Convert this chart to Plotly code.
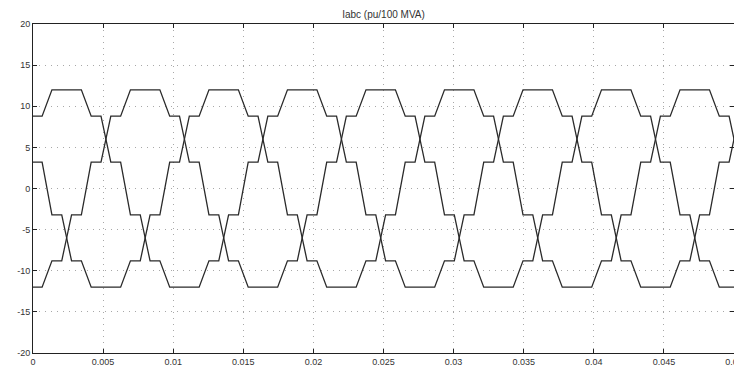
import plotly.graph_objects as go

# ---- data (vertices of each phase current, pu) ----
ia_t = [-0.00215, -0.00145, -0.00075, -0.00005, 0.00065, 0.00135, 0.00345, 0.00415,
        0.00485, 0.00555, 0.00625, 0.00695, 0.00765, 0.00835, 0.00905, 0.00975,
        0.01185, 0.01255, 0.01325, 0.01395, 0.01465, 0.01535, 0.01605, 0.01675,
        0.01745, 0.01815, 0.02025, 0.02095, 0.02165, 0.02235, 0.02305, 0.02375,
        0.02445, 0.02515, 0.02585, 0.02655, 0.02865, 0.02935, 0.03005, 0.03075,
        0.03145, 0.03215, 0.03285, 0.03355, 0.03425, 0.03495, 0.03705, 0.03775,
        0.03845, 0.03915, 0.03985, 0.04055, 0.04125, 0.04195, 0.04265, 0.04335,
        0.04545, 0.04615, 0.04685, 0.04755, 0.04825, 0.04895, 0.04965, 0.05035]
ia_v = [-3.2, 3.2, 3.2, 8.8, 8.8, 12.0, 12.0, 8.8,
        8.8, 3.2, 3.2, -3.2, -3.2, -8.8, -8.8, -12.0,
        -12.0, -8.8, -8.8, -3.2, -3.2, 3.2, 3.2, 8.8,
        8.8, 12.0, 12.0, 8.8, 8.8, 3.2, 3.2, -3.2,
        -3.2, -8.8, -8.8, -12.0, -12.0, -8.8, -8.8, -3.2,
        -3.2, 3.2, 3.2, 8.8, 8.8, 12.0, 12.0, 8.8,
        8.8, 3.2, 3.2, -3.2, -3.2, -8.8, -8.8, -12.0,
        -12.0, -8.8, -8.8, -3.2, -3.2, 3.2, 3.2, 8.8]

ib_t = [-0.00215, -0.00145, -0.00075, -0.00005, 0.00065, 0.00135, 0.00205, 0.00275,
        0.00345, 0.00415, 0.00625, 0.00695, 0.00765, 0.00835, 0.00905, 0.00975,
        0.01045, 0.01115, 0.01185, 0.01255, 0.01465, 0.01535, 0.01605, 0.01675,
        0.01745, 0.01815, 0.01885, 0.01955, 0.02025, 0.02095, 0.02305, 0.02375,
        0.02445, 0.02515, 0.02585, 0.02655, 0.02725, 0.02795, 0.02865, 0.02935,
        0.03145, 0.03215, 0.03285, 0.03355, 0.03425, 0.03495, 0.03565, 0.03635,
        0.03705, 0.03775, 0.03985, 0.04055, 0.04125, 0.04195, 0.04265, 0.04335,
        0.04405, 0.04475, 0.04545, 0.04615, 0.04825, 0.04895, 0.04965, 0.05035,
        0.05105, 0.05175]
ib_v = [12.0, 8.8, 8.8, 3.2, 3.2, -3.2, -3.2, -8.8,
        -8.8, -12.0, -12.0, -8.8, -8.8, -3.2, -3.2, 3.2,
        3.2, 8.8, 8.8, 12.0, 12.0, 8.8, 8.8, 3.2,
        3.2, -3.2, -3.2, -8.8, -8.8, -12.0, -12.0, -8.8,
        -8.8, -3.2, -3.2, 3.2, 3.2, 8.8, 8.8, 12.0,
        12.0, 8.8, 8.8, 3.2, 3.2, -3.2, -3.2, -8.8,
        -8.8, -12.0, -12.0, -8.8, -8.8, -3.2, -3.2, 3.2,
        3.2, 8.8, 8.8, 12.0, 12.0, 8.8, 8.8, 3.2,
        3.2, -3.2]

ic_t = [-0.00215, -0.00145, 0.00065, 0.00135, 0.00205, 0.00275, 0.00345, 0.00415,
        0.00485, 0.00555, 0.00625, 0.00695, 0.00905, 0.00975, 0.01045, 0.01115,
        0.01185, 0.01255, 0.01325, 0.01395, 0.01465, 0.01535, 0.01745, 0.01815,
        0.01885, 0.01955, 0.02025, 0.02095, 0.02165, 0.02235, 0.02305, 0.02375,
        0.02585, 0.02655, 0.02725, 0.02795, 0.02865, 0.02935, 0.03005, 0.03075,
        0.03145, 0.03215, 0.03425, 0.03495, 0.03565, 0.03635, 0.03705, 0.03775,
        0.03845, 0.03915, 0.03985, 0.04055, 0.04265, 0.04335, 0.04405, 0.04475,
        0.04545, 0.04615, 0.04685, 0.04755, 0.04825, 0.04895, 0.05105, 0.05175]
ic_v = [-8.8, -12.0, -12.0, -8.8, -8.8, -3.2, -3.2, 3.2,
        3.2, 8.8, 8.8, 12.0, 12.0, 8.8, 8.8, 3.2,
        3.2, -3.2, -3.2, -8.8, -8.8, -12.0, -12.0, -8.8,
        -8.8, -3.2, -3.2, 3.2, 3.2, 8.8, 8.8, 12.0,
        12.0, 8.8, 8.8, 3.2, 3.2, -3.2, -3.2, -8.8,
        -8.8, -12.0, -12.0, -8.8, -8.8, -3.2, -3.2, 3.2,
        3.2, 8.8, 8.8, 12.0, 12.0, 8.8, 8.8, 3.2,
        3.2, -3.2, -3.2, -8.8, -8.8, -12.0, -12.0, -8.8]

x_ticks = [0, 0.005, 0.01, 0.015, 0.02, 0.025, 0.03, 0.035, 0.04, 0.045, 0.05]
x_labels = ["0", "0.005", "0.01", "0.015", "0.02", "0.025", "0.03", "0.035", "0.04", "0.045", "0.05"]
y_ticks = [-20, -15, -10, -5, 0, 5, 10, 15, 20]
y_labels = ["-20", "-15", "-10", "-5", "0", "5", "10", "15", "20"]

title_text = "Iabc (pu/100 MVA)"

# ---- figure ----
fig = go.Figure()
line_style = dict(color="#2a2a2a", width=1.3)
for t, v, name in [(ia_t, ia_v, "Ia"), (ib_t, ib_v, "Ib"), (ic_t, ic_v, "Ic")]:
    fig.add_trace(go.Scatter(x=t, y=v, mode="lines", name=name, line=line_style,
                             showlegend=False, hoverinfo="skip"))

axis_common = dict(
    showline=True, linecolor="#222", linewidth=1, mirror="allticks",
    ticks="inside", ticklen=4, tickcolor="#222",
    showgrid=True, gridcolor="#a8a8a8", griddash="1px,5px", gridwidth=1,
    zeroline=False, ticklabeloverflow="allow",
    tickfont=dict(family="Liberation Sans, Arial, sans-serif", size=9, color="#333"),
)

fig.update_xaxes(range=[0, 0.05], tickvals=x_ticks, ticktext=x_labels, **axis_common)
fig.update_yaxes(range=[-20, 20], tickvals=y_ticks, ticktext=y_labels, **axis_common)

fig.update_layout(
    width=734, height=367,
    margin=dict(l=33, r=0, t=24, b=14, autoexpand=False),
    paper_bgcolor="white", plot_bgcolor="white",
    title=dict(text=title_text, x=0.5225, xanchor="center", y=1 - 14 / 367, yanchor="middle",
               font=dict(family="Liberation Sans, Arial, sans-serif", size=10, color="#333")),
)

fig.write_html("out.html")
